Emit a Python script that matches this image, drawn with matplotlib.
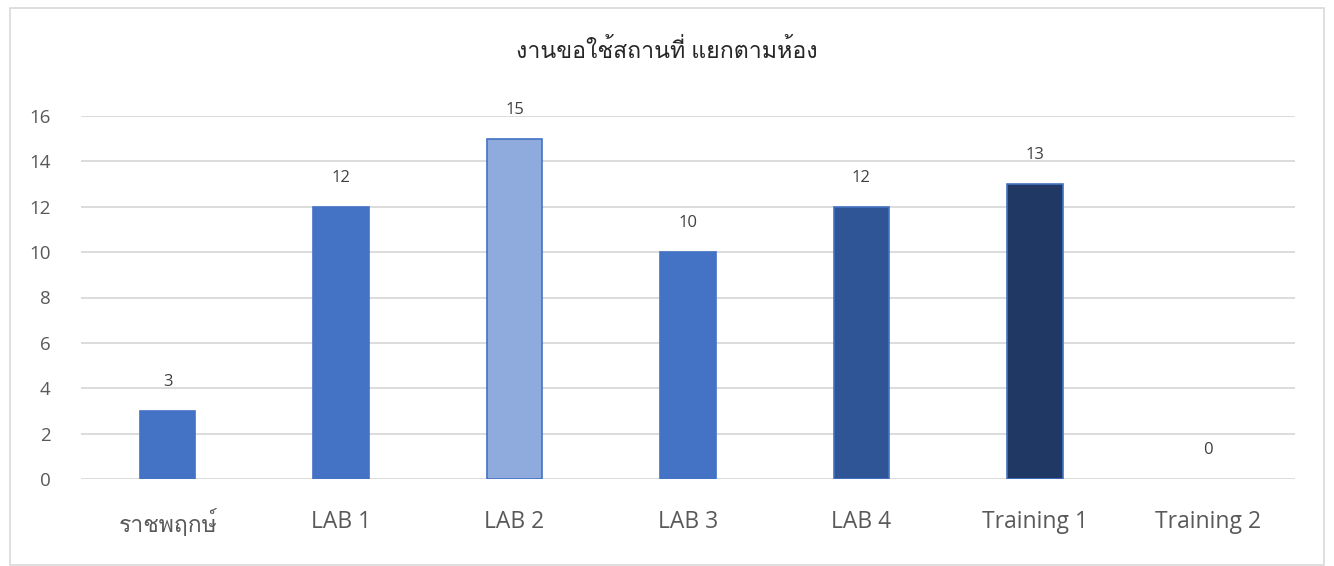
import matplotlib
matplotlib.use('Agg')
import matplotlib.pyplot as plt
from matplotlib.patches import Rectangle

# Loma keeps the stacked tone mark in "ที่" visible
plt.rcParams['font.family'] = ['Open Sans', 'Loma', 'DejaVu Sans']

rooms = ['ราชพฤกษ์', 'LAB 1', 'LAB 2', 'LAB 3', 'LAB 4', 'Training 1', 'Training 2']
counts = [3, 12, 15, 10, 12, 13, 0]
colors = ['#4472C4', '#4472C4', '#8FAADC', '#4472C4', '#2F5597', '#203864', '#4472C4']
title = 'งานขอใช้สถานที่ แยกตามห้อง'

fig = plt.figure(figsize=(13.34, 5.66), dpi=100)
ax = fig.add_axes([81 / 1334, 1 - 479 / 566, (1295 - 81) / 1334, (479 - 116) / 566])

x = range(len(rooms))
edges = [1.2 if v > 0 else 0 for v in counts]
ax.bar(x, counts, width=0.32, color=colors, edgecolor='#4472C4', linewidth=edges, zorder=3)

for xi, v in zip(x, counts):
    ax.annotate(str(v), (xi, v), xytext=(0, 15), textcoords='offset points',
                ha='center', va='bottom', fontsize=12, color='#404040')

ax.set_xlim(-0.5, len(rooms) - 0.5)
ax.set_ylim(0, 16)
ax.set_yticks(range(0, 17, 2))
ax.set_xticks(list(x))
ax.set_xticklabels(rooms, fontsize=16.5, color='#595959')
ax.tick_params(axis='y', labelsize=13.5, labelcolor='#595959', length=0, pad=22)
ax.tick_params(axis='x', length=0, pad=22)
ax.grid(axis='y', color='#D9D9D9', linewidth=1.3, zorder=0)
for s in ax.spines.values():
    s.set_visible(False)

fig.text(0.5, 1 - 52 / 566, title, ha='center', va='center', fontsize=16.7, color='#262626')

fig.patches.append(Rectangle((10 / 1334, 1 / 566), 1314 / 1334, 557 / 566,
                             transform=fig.transFigure, fill=False,
                             edgecolor='#D9D9D9', linewidth=1.2))

fig.savefig('out.png', dpi=100)
